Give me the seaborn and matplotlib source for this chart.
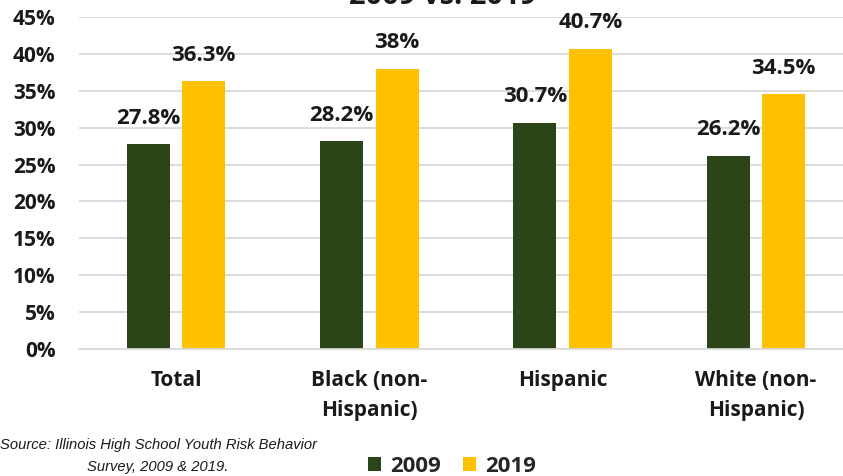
import matplotlib
matplotlib.use("Agg")
import matplotlib.pyplot as plt
import seaborn as sns
import pandas as pd
from matplotlib.ticker import MultipleLocator, FuncFormatter

categories = ["Total", "Black (non-\nHispanic)", "Hispanic", "White (non-\nHispanic)"]
values_2009 = [27.8, 28.2, 30.7, 26.2]
values_2019 = [36.3, 38.0, 40.7, 34.5]
label_2009 = ["27.8%", "28.2%", "30.7%", "26.2%"]
label_2019 = ["36.3%", "38%", "40.7%", "34.5%"]
years = ["2009", "2019"]
colors = ["#2B4519", "#FFC000"]
title = "2009 vs. 2019"
source_lines = ["Source: Illinois High School Youth Risk Behavior", "Survey, 2009 & 2019."]

df = pd.DataFrame({
    "category": categories * 2,
    "year": [years[0]] * 4 + [years[1]] * 4,
    "value": values_2009 + values_2019,
})

sns.set_theme(style="white")
plt.rcParams["font.family"] = ["Open Sans", "DejaVu Sans"]

fig = plt.figure(figsize=(8.43, 4.76), dpi=100)
ax = fig.add_axes([79.3 / 843, 127 / 476, 773.4 / 843, 332 / 476])

sns.barplot(data=df, x="category", y="value", hue="year", order=categories,
            hue_order=years, palette=colors, width=0.574, gap=0.225,
            saturation=1, ax=ax, legend=True, linewidth=0)

ax.set_ylim(0, 45)
ax.set_xlim(-0.5, 3.5)
ax.yaxis.set_major_locator(MultipleLocator(5))
ax.yaxis.set_major_formatter(FuncFormatter(lambda v, p: f"{int(round(v))}%"))
ax.grid(axis="y", color="#D9D9D9", linewidth=1.3)
ax.set_axisbelow(True)
for s in ["top", "right", "left"]:
    ax.spines[s].set_visible(False)
ax.spines["bottom"].set_color("#D9D9D9")
ax.spines["bottom"].set_linewidth(1.3)
ax.set_xlabel("")
ax.set_ylabel("")
ax.tick_params(axis="y", length=0, pad=17, labelsize=15, labelcolor="#1a1a1a")
ax.tick_params(axis="x", length=0, pad=15, labelsize=15, labelcolor="#1a1a1a")
for t in ax.get_yticklabels() + ax.get_xticklabels():
    t.set_fontweight("bold")
for t in ax.get_xticklabels():
    t.set_linespacing(1.6)

for cont, labs in zip(ax.containers, [label_2009, label_2019]):
    ax.bar_label(cont, labels=labs, padding=11, fontsize=16, fontweight="bold",
                 color="#1a1a1a")

handles, labels = ax.get_legend_handles_labels()
ax.get_legend().remove()
fig.legend(handles, labels, loc="center", bbox_to_anchor=(452 / 843, 10 / 476),
           ncol=2, frameon=False, handlelength=0.6, handleheight=0.6,
           handletextpad=0.4, columnspacing=1.0,
           prop={"weight": "bold", "size": 16, "family": "Open Sans"})

fig.text(443 / 843, 1 - 4 / 476, title, ha="center", va="baseline",
         fontsize=21, fontweight="bold", color="#1a1a1a")

fig.text(158 / 843, 1 - 445 / 476, source_lines[0], ha="center", va="center",
         fontsize=10.6, style="italic", color="#1a1a1a",
         family=["Liberation Sans", "DejaVu Sans"])
fig.text(158 / 843, 1 - 467 / 476, source_lines[1], ha="center", va="center",
         fontsize=10.6, style="italic", color="#1a1a1a",
         family=["Liberation Sans", "DejaVu Sans"])

fig.savefig("out.png", dpi=100)
